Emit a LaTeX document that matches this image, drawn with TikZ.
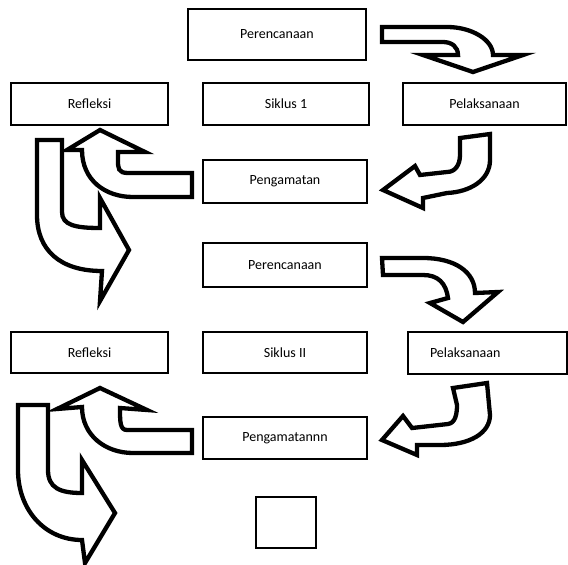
\documentclass[tikz,border=0pt]{standalone}
\usepackage{fontspec}
\setmainfont{Carlito}
\usepackage{tikz}
\usetikzlibrary{positioning}

\begin{document}
\begin{tikzpicture}[
    x=1pt,y=-1pt,
    box/.style={draw=black,line width=1.3pt,inner sep=0pt,
      font=\fontsize{14}{16}\selectfont},
    bentarrow/.style={draw=black,fill=white,line width=4.3pt,line join=miter}
  ]
    \useasboundingbox (0,0) rectangle (568,565);
    \node[box,minimum width=178pt,minimum height=51pt] (per1) at (277,34.5) {Perencanaan};
    \node[box,minimum width=166pt,minimum height=42pt] (sik1) at (286,104) {Siklus 1};
    \node[box,minimum width=163pt,minimum height=42pt] (pel1) at (484.5,104) {Pelaksanaan};
    \node[box,minimum width=157pt,minimum height=42pt] (ref1) at (89.5,104) {Refleksi};
    \node[box,minimum width=164pt,minimum height=43pt] (pen1) at (285,181.5) {Pengamatan};
    \node[box,minimum width=164pt,minimum height=44pt] (per2) at (285,265) {Perencanaan};
    \node[box,minimum width=164pt,minimum height=41pt] (sik2) at (285,352.5) {Siklus II};
    \node[box,minimum width=159pt,minimum height=42pt,text width=115pt,align=left,inner xsep=22pt] (pel2) at (487.5,353) {Pelaksanaan};
    \node[box,minimum width=157pt,minimum height=41pt] (ref2) at (89.5,352.5) {Refleksi};
    \node[box,minimum width=164pt,minimum height=42pt] (pen2) at (285,438) {Pengamatannn};
    \node[box,line width=2.2pt,minimum width=60pt,minimum height=51pt] (sq) at (286,522.5) {};
    \draw[bentarrow] (382,27) -- (447,27) .. controls (472,27) and (493,40) .. (493,55)
      -- (523,55) -- (473,72) -- (423,55) -- (458,55)
      .. controls (458,47) and (452,42) .. (443,42) -- (382,42) -- cycle;
    \draw[bentarrow] (460,138) -- (490,134) -- (490,160) .. controls (490,180) and (470,192) .. (447,193)
      -- (423,198) -- (423,208) -- (383,190) -- (415,166) -- (420,175) -- (447,172)
      .. controls (455,172) and (460,165) .. (460,155) -- cycle;
    \draw[bentarrow] (192,173) -- (128,173) .. controls (118,173) and (118,168) .. (118,160)
      -- (118,152) -- (145,152) -- (100,130) -- (67,150) -- (82,150)
      .. controls (82,180) and (105,197) .. (133,197) -- (192,197) -- cycle;
    \draw[bentarrow] (37,140) -- (62,140) -- (62,212) .. controls (62,225) and (75,228) .. (100,228)
      -- (100,198) -- (129,250) -- (100,301) -- (102,271)
      .. controls (60,271) and (37,250) .. (37,215) -- cycle;
    \draw[bentarrow] (382,258) -- (423,258) .. controls (455,258) and (475,272) .. (475,293)
      -- (498,292) -- (463,322) -- (430,303) -- (448,298)
      .. controls (446,283) and (438,275) .. (423,275) -- (383,275) -- cycle;
    \draw[bentarrow] (453,388) -- (487,383) -- (490,415) .. controls (490,433) and (470,445) .. (440,445)
      -- (417,445) -- (417,455) -- (382,440) -- (403,416) -- (412,428) -- (448,424)
      .. controls (455,423) and (457,415) .. (457,405) -- cycle;
    \draw[bentarrow] (192,430) -- (127,430) .. controls (120,430) and (120,422) .. (120,408)
      -- (147,410) -- (100,388) -- (57,409) -- (82,407)
      .. controls (82,435) and (105,453) .. (133,453) -- (192,453) -- cycle;
    \draw[bentarrow] (18,405) -- (48,405) -- (48,470) .. controls (48,488) and (60,493) .. (82,493)
      -- (82,460) -- (115,513) -- (85,563) -- (82,540)
      .. controls (45,540) and (18,510) .. (18,470) -- cycle;
  \end{tikzpicture}
\end{document}
